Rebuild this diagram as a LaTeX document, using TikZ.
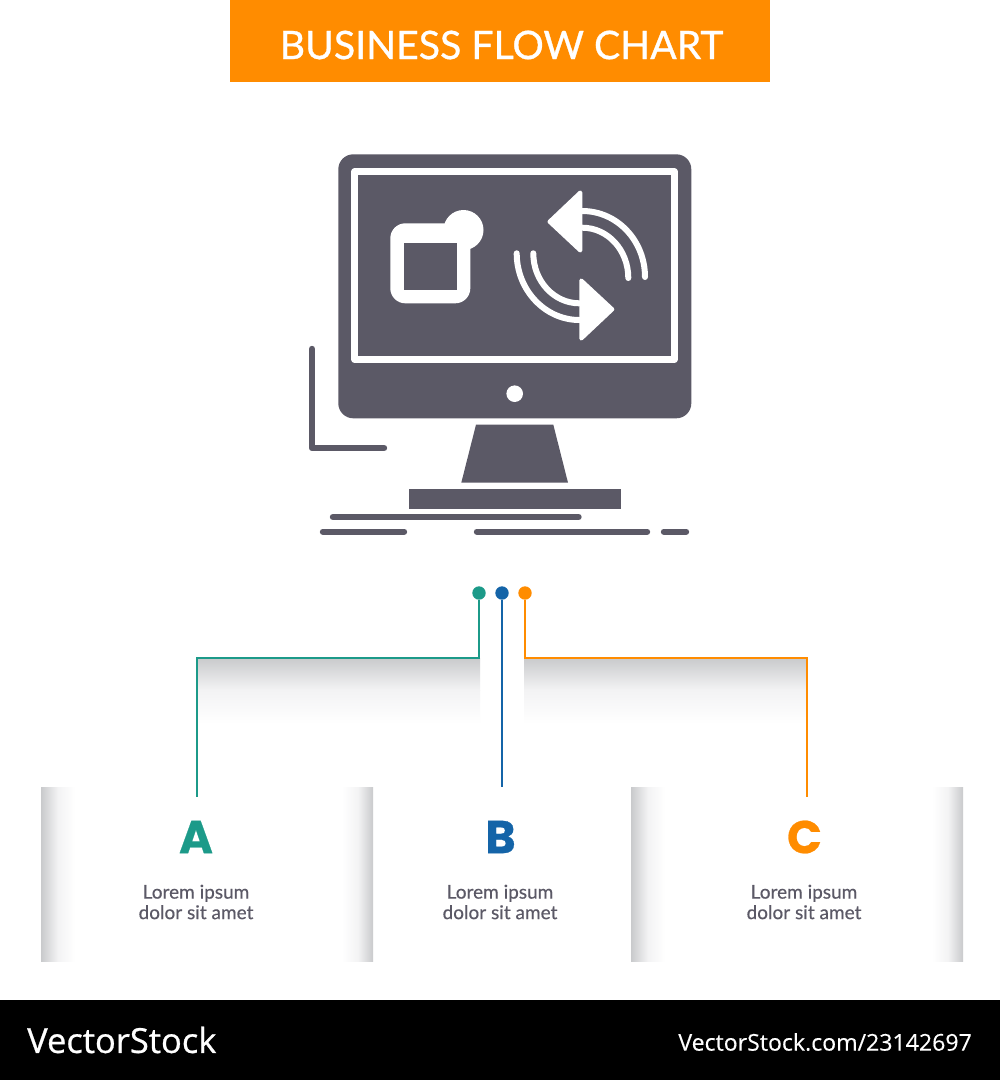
\documentclass[tikz,border=0pt]{standalone}
\usepackage{fontspec}
\setmainfont{Lato}[FakeBold=0.6]
\newfontfamily\plainlato{Lato}[FakeBold=0.35]
\newfontfamily\titlelato{Lato}[FakeBold=0.8]
\newfontfamily\heavyfont{Poppins}[BoldFont=Poppins Bold,BoldFeatures={FakeBold=0.5}]
\newfontfamily\footfont{Open Sans}[FakeBold=0.7]
\newfontfamily\footlight{Open Sans}[FakeBold=0.3]
\definecolor{hdr}{HTML}{FF8C00}
\definecolor{ink}{HTML}{5B5966}
\definecolor{tealc}{HTML}{1C9A89}
\definecolor{bluec}{HTML}{1464A8}
\definecolor{oran}{HTML}{FF8C00}
\definecolor{shadeg}{HTML}{C9CACC}
\definecolor{shadel}{HTML}{F3F3F4}
\tikzset{
  solid ink/.style={fill=ink,draw=none},
  ink line/.style={draw=ink,line width=6.4pt,line cap=round},
  white band/.style={draw=white,line width=6pt,line cap=round},
  white arrow/.style={fill=white,draw=white,line width=4pt,line join=round},
  dotnode/.style={circle,inner sep=0pt,minimum size=13.4pt,draw=none},
  link/.style={line width=1.7pt,line join=miter},
  letter/.style={font=\heavyfont\bfseries\fontsize{46}{46}\selectfont,inner sep=0pt},
  caption/.style={font=\plainlato\fontsize{19}{20.5}\selectfont,text=ink,align=center,inner sep=0pt},
}
\begin{document}
\begin{tikzpicture}[x=1pt,y=-1pt]
\useasboundingbox (0,0) rectangle (1000,1080);
\fill[white] (0,0) rectangle (1000,1080);
% header and footer
\fill[hdr] (230,0) rectangle (770,82);
\node[text=white,inner sep=0pt,font=\titlelato\fontsize{39.2}{39.2}\selectfont] (title) at (501.5,45) {BUSINESS FLOW CHART};
\fill[black] (0,1000) rectangle (1000,1080);
\node[text=white,inner sep=0pt,anchor=west,font=\footfont\fontsize{34.5}{34.5}\selectfont] (brand) at (27,1040) {VectorStock};
\node[text=white,inner sep=0pt,anchor=east,font=\footlight\fontsize{23.1}{23.1}\selectfont] (ref) at (972,1042) {VectorStock.com/23142697};
% monitor
\fill[solid ink,rounded corners=15pt] (338.3,154.3) rectangle (691.3,418.3);
\draw[white,line width=6.7pt,line join=round] (354.7,171.7) rectangle (674.3,359.6);
\fill[white] (514.7,393.7) circle (8.3);
% window icon
\fill[white] (463.5,230) circle (20);
\fill[white,rounded corners=15pt] (390.3,223.3) rectangle (470.3,303.3);
\fill[solid ink] (403.7,243) rectangle (456.7,290);
% refresh arrows
\draw[white band] (582.3,211) .. controls (617,211) and (645,240.5) .. (645,277);
\draw[white band] (582.3,227.7) .. controls (607.7,227.7) and (628.3,250) .. (628.3,278);
\draw[white band] (516.7,253.3) .. controls (516.7,290) and (545,320) .. (579.3,320);
\draw[white band] (533.3,253.3) .. controls (533.3,281) and (554,303.3) .. (579.3,303.3);
\filldraw[white arrow] (549.5,221.7) -- (580.3,192.5) -- (580.3,250.5) -- cycle;
\filldraw[white arrow] (612.3,309.3) -- (581.3,280.5) -- (581.3,338.5) -- cycle;
% stand and base
\fill[solid ink] (476,424.7) -- (553.3,424.7) -- (568,482.7) -- (461.3,482.7) -- cycle;
\fill[solid ink] (409,489.3) rectangle (620.7,509.3);
% ground lines and corner
\draw[ink line] (333,517) -- (578.5,517);
\draw[ink line] (323,531.7) -- (404,531.7);
\draw[ink line] (477,531.7) -- (647,531.7);
\draw[ink line] (664,531.7) -- (686,531.7);
\draw[ink line,line join=round] (312,349) -- (312,448) -- (384,448);
% shadows
\shade[top color=shadeg,bottom color=shadel] (197,658) rectangle (480,690);
\shade[top color=shadel,bottom color=white] (197,690) rectangle (480,724);
\shade[top color=shadeg,bottom color=shadel] (524,658) rectangle (807,690);
\shade[top color=shadel,bottom color=white] (524,690) rectangle (807,724);
\shade[left color=shadeg,right color=shadel] (41,787) rectangle (58,961);
\shade[left color=shadel,right color=white] (58,787) rectangle (75,961);
\shade[left color=white,right color=shadel] (342,787) rectangle (358,961);
\shade[left color=shadel,right color=shadeg] (358,787) rectangle (373,961);
\shade[left color=shadeg,right color=shadel] (631,787) rectangle (648,961);
\shade[left color=shadel,right color=white] (648,787) rectangle (665,961);
\shade[left color=white,right color=shadel] (932,787) rectangle (948,961);
\shade[left color=shadel,right color=shadeg] (948,787) rectangle (963,961);
% connectors
\node[dotnode,fill=tealc] (dotA) at (479,593) {};
\node[dotnode,fill=bluec] (dotB) at (502,593) {};
\node[dotnode,fill=oran] (dotC) at (525,593) {};
\coordinate (endA) at (197,797);
\coordinate (endB) at (502,787);
\coordinate (endC) at (807,797);
\coordinate (kneeA) at (479,658);
\coordinate (kneeC) at (525,658);
\draw[link,draw=tealc] (dotA) -- (kneeA) -| (endA);
\draw[link,draw=bluec] (dotB) -- (endB);
\draw[link,draw=oran] (dotC) -- (kneeC) -| (endC);
% labels
\node[letter,text=tealc] (letA) at (196,837) {A};
\node[letter,text=bluec] (letB) at (500.5,837) {B};
\node[letter,text=oran] (letC) at (804.5,837) {C};
\node[caption] (capA) at (196,902) {Lorem ipsum\\dolor sit amet};
\node[caption] (capB) at (500,902) {Lorem ipsum\\dolor sit amet};
\node[caption] (capC) at (804,902) {Lorem ipsum\\dolor sit amet};
\end{tikzpicture}
\end{document}
